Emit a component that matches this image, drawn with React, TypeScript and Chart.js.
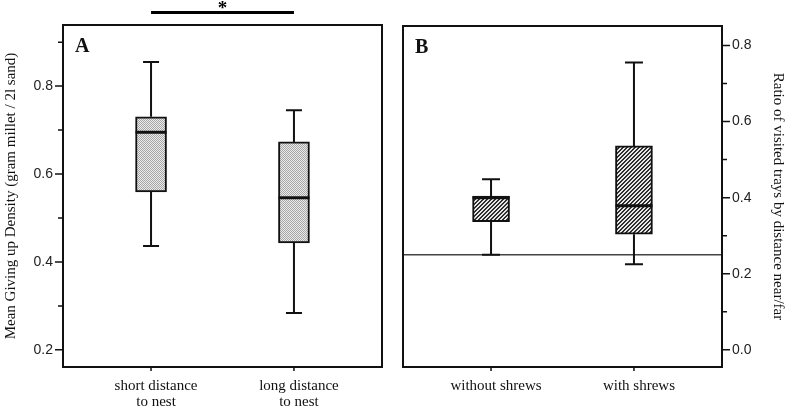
import React, { useEffect, useRef } from "react";
import { Chart, registerables } from "chart.js";
Chart.register(...registerables);

// ---- Panel A data (box plot statistics) ----
const categoriesA = [["short distance", "to nest"], ["long distance", "to nest"]];
const whiskerLowA = [0.436, 0.284];
const q1A = [0.559, 0.443];
const medianA = [0.695, 0.546];
const q3A = [0.73, 0.673];
const whiskerHighA = [0.855, 0.745];
const majorTicksA = [0.2, 0.4, 0.6, 0.8];
const minorTicksA = [0.3, 0.5, 0.7, 0.9];
const titleA = "Mean Giving up Density (gram millet / 2l sand)";

// ---- Panel B data ----
const categoriesB = ["without shrews", "with shrews"];
const whiskerLowB = [0.25, 0.225];
const q1B = [0.337, 0.304];
const medianB = [0.4, 0.379];
const q3B = [0.404, 0.536];
const whiskerHighB = [0.448, 0.755];
const majorTicksB = [0.0, 0.2, 0.4, 0.6, 0.8];
const minorTicksB = [0.1, 0.3, 0.5, 0.7];
const referenceB = 0.25;
const titleB = "Ratio of visited trays by distance near/far";

const significancePair = [1, 2];

const INK = "#111";

function makePattern(kind: string) {
  const n = kind === "dots" ? 2 : 4;
  const c = document.createElement("canvas");
  c.width = n;
  c.height = n;
  const g = c.getContext("2d")!;
  g.fillStyle = kind === "dots" ? "#ebebeb" : "#e8e8e8";
  g.fillRect(0, 0, n, n);
  g.fillStyle = kind === "dots" ? "#a6a6a6" : "#2e2e2e";
  for (let x = 0; x < n; x++) {
    for (let y = 0; y < n; y++) {
      const on = kind === "dots" ? (x + y) % 2 === 0 : (x + y) % 4 < 2;
      if (on) g.fillRect(x, y, 1, 1);
    }
  }
  return g.createPattern(c, "repeat");
}

function extrasPlugin(p: any) {
  return {
    id: "boxExtras" + p.key,
    beforeDatasetsDraw(chart: any) {
      if (p.reference == null) return;
      const { ctx, chartArea, scales } = chart;
      const yy = scales.y.getPixelForValue(p.reference);
      ctx.save();
      ctx.strokeStyle = "#444";
      ctx.lineWidth = 1.5;
      ctx.beginPath();
      ctx.moveTo(chartArea.left, yy);
      ctx.lineTo(chartArea.right, yy);
      ctx.stroke();
      ctx.restore();
    },
    afterDatasetsDraw(chart: any) {
      const { ctx, scales } = chart;
      const x = scales.x;
      const y = scales.y;
      ctx.save();
      ctx.strokeStyle = INK;
      ctx.lineCap = "butt";
      for (let i = 0; i < p.q1.length; i++) {
        const px = x.getPixelForValue(i + 1);
        ctx.lineWidth = 2;
        ctx.beginPath();
        ctx.moveTo(px, y.getPixelForValue(p.high[i]));
        ctx.lineTo(px, y.getPixelForValue(p.q3[i]));
        ctx.moveTo(px, y.getPixelForValue(p.q1[i]));
        ctx.lineTo(px, y.getPixelForValue(p.low[i]));
        const half = p.cap / 2;
        ctx.moveTo(px - half, y.getPixelForValue(p.high[i]));
        ctx.lineTo(px + half, y.getPixelForValue(p.high[i]));
        ctx.moveTo(px - half, y.getPixelForValue(p.low[i]));
        ctx.lineTo(px + half, y.getPixelForValue(p.low[i]));
        ctx.stroke();
        ctx.lineWidth = 3;
        ctx.beginPath();
        ctx.moveTo(px - p.bw / 2, y.getPixelForValue(p.median[i]));
        ctx.lineTo(px + p.bw / 2, y.getPixelForValue(p.median[i]));
        ctx.stroke();
      }
      ctx.restore();
    },
    afterDraw(chart: any) {
      const { ctx, chartArea, scales } = chart;
      const x = scales.x;
      const y = scales.y;
      ctx.save();
      ctx.strokeStyle = INK;
      ctx.lineWidth = 2;
      ctx.strokeRect(chartArea.left, chartArea.top, chartArea.right - chartArea.left, chartArea.bottom - chartArea.top);
      // y tick marks
      const edge = p.side === "left" ? chartArea.left : chartArea.right;
      const dir = p.side === "left" ? -1 : 1;
      ctx.lineWidth = 1.5;
      ctx.beginPath();
      for (const v of p.majors) {
        const py = y.getPixelForValue(v);
        ctx.moveTo(edge, py);
        ctx.lineTo(edge + dir * 8, py);
      }
      for (const v of p.minors) {
        const py = y.getPixelForValue(v);
        ctx.moveTo(edge, py);
        ctx.lineTo(edge + dir * 5, py);
      }
      // x category ticks
      for (let i = 0; i < p.q1.length; i++) {
        const px = x.getPixelForValue(i + 1);
        ctx.moveTo(px, chartArea.bottom);
        ctx.lineTo(px, chartArea.bottom + 4);
      }
      ctx.stroke();
      // panel letter
      ctx.fillStyle = INK;
      ctx.font = "bold 20px 'Liberation Serif'";
      ctx.textAlign = "left";
      ctx.textBaseline = "alphabetic";
      ctx.fillText(p.letter, chartArea.left + 12, chartArea.top + 27);
      // significance bar
      if (p.significance) {
        const x1 = x.getPixelForValue(p.significance[0]);
        const x2 = x.getPixelForValue(p.significance[1]);
        ctx.lineWidth = 3;
        ctx.strokeStyle = "#000";
        ctx.beginPath();
        ctx.moveTo(x1, 12.5);
        ctx.lineTo(x2, 12.5);
        ctx.stroke();
        ctx.font = "bold 19px 'Liberation Serif'";
        ctx.textAlign = "center";
        ctx.fillStyle = "#000";
        ctx.fillText("*", (x1 + x2) / 2, 14);
      }
      ctx.restore();
    },
  };
}

function buildConfig(p: any) {
  const pattern = makePattern(p.pattern);
  return {
    type: "bar",
    data: {
      datasets: [
        {
          data: p.q1.map((q: number, i: number) => ({ x: i + 1, y: [q, p.q3[i]] })),
          backgroundColor: pattern,
          borderColor: INK,
          borderWidth: 2,
          borderSkipped: false,
          barThickness: p.bw,
        },
      ],
    },
    options: {
      responsive: false,
      animation: false,
      layout: { padding: p.padding },
      plugins: { legend: { display: false }, tooltip: { enabled: false } },
      scales: {
        x: {
          type: "linear",
          offset: false,
          min: 0.384,
          max: 2.616,
          grid: { display: false, drawTicks: true, tickLength: 8 },
          border: { display: false },
          afterBuildTicks: (s: any) => {
            s.ticks = p.categories.map((_: any, i: number) => ({ value: i + 1 }));
          },
          afterFit: (s: any) => {
            s.height = 42;
          },
          ticks: {
            callback: (_v: any, i: number) => p.categories[i],
            font: { family: "'Liberation Serif'", size: 15, lineHeight: 1.07 },
            color: INK,
            padding: 3,
            labelOffset: 5,
            maxRotation: 0,
            minRotation: 0,
            autoSkip: false,
          },
        },
        y: {
          position: p.side,
          min: p.yMin,
          max: p.yMax,
          grid: { display: false, drawTicks: true, tickLength: 8 },
          border: { display: false },
          afterBuildTicks: (s: any) => {
            s.ticks = p.majors.map((v: number) => ({ value: v }));
          },
          afterFit: (s: any) => {
            s.width = p.axisWidth;
          },
          ticks: {
            callback: (v: any) => Number(v).toFixed(1),
            font: { family: "'Liberation Sans'", size: 14 },
            color: "#222",
            padding: 2,
            autoSkip: false,
          },
          title: {
            display: true,
            text: p.title,
            font: { family: "'Liberation Serif'", size: 15 },
            color: INK,
            padding: { top: p.titlePad, bottom: 0 },
          },
        },
      },
    },
    plugins: [extrasPlugin(p)],
  };
}

const panelA = {
  key: "A",
  letter: "A",
  categories: categoriesA,
  low: whiskerLowA,
  q1: q1A,
  median: medianA,
  q3: q3A,
  high: whiskerHighA,
  majors: majorTicksA,
  minors: minorTicksA,
  title: titleA,
  side: "left",
  yMin: 0.161,
  yMax: 0.939,
  bw: 31,
  cap: 16,
  pattern: "dots",
  padding: { left: 0, top: 25, right: 13, bottom: 0 },
  axisWidth: 63,
  titlePad: 2,
  reference: null,
  significance: significancePair,
};

const panelB = {
  key: "B",
  letter: "B",
  categories: categoriesB,
  low: whiskerLowB,
  q1: q1B,
  median: medianB,
  q3: q3B,
  high: whiskerHighB,
  majors: majorTicksB,
  minors: minorTicksB,
  title: titleB,
  side: "right",
  yMin: -0.045,
  yMax: 0.851,
  bw: 37,
  cap: 18,
  pattern: "hatch",
  padding: { left: 10, top: 26, right: 0, bottom: 0 },
  axisWidth: 65,
  titlePad: 0,
  reference: referenceB,
  significance: null,
};

function Panel({ cfg, left, width }: { cfg: any; left: number; width: number }) {
  const ref = useRef<HTMLCanvasElement>(null);
  useEffect(() => {
    const chart = new Chart(ref.current!, buildConfig(cfg) as any);
    return () => chart.destroy();
  }, []);
  return (
    <canvas
      ref={ref}
      width={width}
      height={409}
      style={{ position: "absolute", left, top: 0, width, height: 409 }}
    />
  );
}

export default function App() {
  return (
    <div style={{ position: "absolute", left: 0, top: 0, width: 787, height: 409, background: "#fff", overflow: "hidden" }}>
      <Panel cfg={panelA} left={0} width={395} />
      <Panel cfg={panelB} left={393} width={394} />
    </div>
  );
}
